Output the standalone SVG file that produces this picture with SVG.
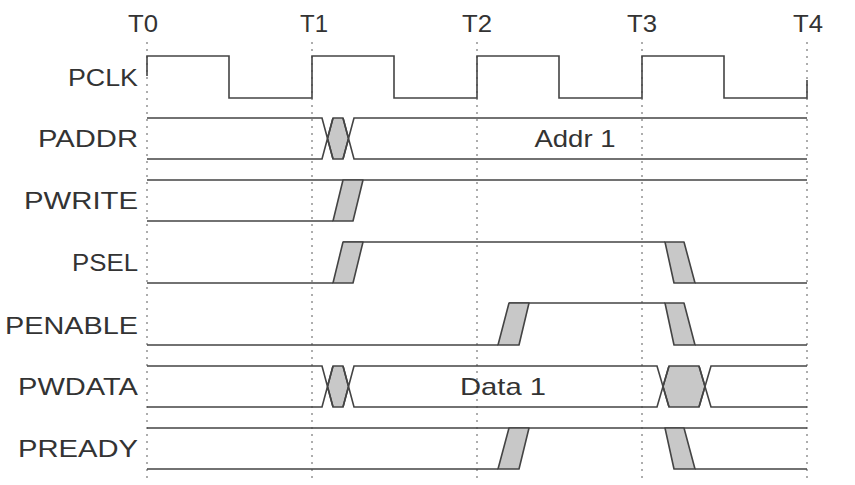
<svg xmlns="http://www.w3.org/2000/svg" width="855" height="485" viewBox="0 0 855 485">
<style>
text{font-family:"Liberation Sans",Arial,sans-serif;font-size:24px;fill:#333}
.lbl{text-anchor:end}
.t{text-anchor:middle}
.grid{stroke:#777;stroke-width:1.2;stroke-dasharray:2 5}
.w{fill:none;stroke:#444;stroke-width:1.6}
.g{fill:#c8c8c8;stroke:#444;stroke-width:1.6;stroke-linejoin:round}
</style>
<rect width="855" height="485" fill="#fff"/>
<g id="grid">
<line class="grid" x1="147" y1="42" x2="147" y2="482"/>
<line class="grid" x1="312" y1="42" x2="312" y2="482"/>
<line class="grid" x1="477" y1="42" x2="477" y2="482"/>
<line class="grid" x1="642" y1="42" x2="642" y2="482"/>
<line class="grid" x1="807" y1="42" x2="807" y2="482"/>
</g>
<g id="times">
<text class="t" x="143" y="32" textLength="30" lengthAdjust="spacingAndGlyphs">T0</text>
<text class="t" x="314" y="32" textLength="28" lengthAdjust="spacingAndGlyphs">T1</text>
<text class="t" x="477" y="32" textLength="30" lengthAdjust="spacingAndGlyphs">T2</text>
<text class="t" x="642" y="32" textLength="30" lengthAdjust="spacingAndGlyphs">T3</text>
<text class="t" x="808" y="32" textLength="30" lengthAdjust="spacingAndGlyphs">T4</text>
</g>
<g id="PCLK">
<text class="lbl" x="138" y="86" textLength="70" lengthAdjust="spacingAndGlyphs">PCLK</text>
<path class="w" d="M147,76 V56 H229 V98 H312 V56 H394 V98 H477 V56 H559 V98 H642 V56 H724 V98 H807 V80"/>
</g>
<g id="PADDR">
<text class="lbl" x="138" y="147" textLength="100" lengthAdjust="spacingAndGlyphs">PADDR</text>
<path class="g" d="M327.5,138.5 L333,118 H343 L348.5,138.5 L343,159 H333 Z"/>
<path class="w" d="M147,118 H322 L333,159 M147,159 H322 L333,118 M343,118 L354,159 H807 M343,159 L354,118 H807"/>
<text x="575" y="147" class="t" textLength="81" lengthAdjust="spacingAndGlyphs">Addr 1</text>
</g>
<g id="PWRITE">
<text class="lbl" x="138" y="209" textLength="114" lengthAdjust="spacingAndGlyphs">PWRITE</text>
<path class="w" d="M147,180 H807 M147,221 H333"/>
<path class="g" d="M333,221 L343,180 H363 L353,221 Z"/>
</g>
<g id="PSEL">
<text class="lbl" x="138" y="271" textLength="66" lengthAdjust="spacingAndGlyphs">PSEL</text>
<path class="w" d="M147,283 H333 M343,242 H665 M695,283 H807"/>
<path class="g" d="M333,283 L343,242 H363 L353,283 Z"/>
<path class="g" d="M665,242 H684 L695,283 H674 Z"/>
</g>
<g id="PENABLE">
<text class="lbl" x="138" y="334" textLength="133" lengthAdjust="spacingAndGlyphs">PENABLE</text>
<path class="w" d="M147,345 H498 M509,303 H665 M695,345 H807"/>
<path class="g" d="M498,345 L509,303 H529 L519,345 Z"/>
<path class="g" d="M665,303 H684 L695,345 H674 Z"/>
</g>
<g id="PWDATA">
<text class="lbl" x="138" y="395" textLength="120" lengthAdjust="spacingAndGlyphs">PWDATA</text>
<path class="g" d="M327.5,386.5 L333,366 H343 L348.5,386.5 L343,407 H333 Z"/>
<path class="g" d="M663,386.5 L669,366 H699 L705,386.5 L699,407 H669 Z"/>
<path class="w" d="M147,366 H322 L333,407 M147,407 H322 L333,366 M343,366 L354,407 H657 L669,366 M343,407 L354,366 H657 L669,407 M699,366 L711,407 H807 M699,407 L711,366 H807"/>
<text x="503" y="395" class="t" textLength="86" lengthAdjust="spacingAndGlyphs">Data 1</text>
</g>
<g id="PREADY">
<text class="lbl" x="138" y="457" textLength="120" lengthAdjust="spacingAndGlyphs">PREADY</text>
<path class="w" d="M147,428 H807 M147,469 H498 M695,469 H807"/>
<path class="g" d="M498,469 L509,428 H529 L519,469 Z"/>
<path class="g" d="M665,428 H684 L695,469 H674 Z"/>
</g>
</svg>
